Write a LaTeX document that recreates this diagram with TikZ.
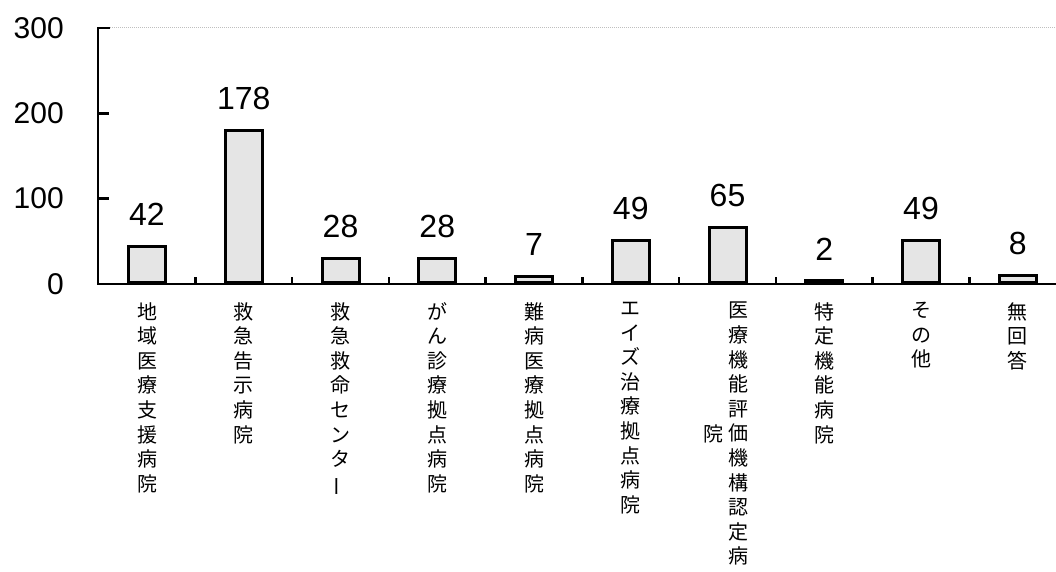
\documentclass[tikz,border=0pt]{standalone}
\usepackage{fontspec}
\setmainfont{Liberation Sans}
\newfontfamily\cjk{Noto Sans CJK JP}
\usetikzlibrary{positioning}
\usetikzlibrary{calc}
% long vowel mark set upright for vertical text
\newcommand{\vchoon}{\rotatebox[origin=c]{90}{ー}}
\tikzset{
	%Define style for axis lines
	axis/.style={line width=2.5pt},
	%Define style for bars
	bar/.style={
		rectangle,
		draw=black, line width=3pt,
		fill=gray!20,
		minimum width=37pt,
		inner sep=0pt,
		anchor=south},
	% numbers above the bars
	vallabel/.style={inner sep=0pt, font=\fontsize{32}{38}\selectfont},
	% numbers on the y axis
	ylabel/.style={anchor=east, inner sep=0pt, font=\fontsize{30}{34}\selectfont},
	% vertical category names
	catlabel/.style={
		inner sep=0pt,
		align=center,
		font=\fontsize{20}{24.6}\selectfont\cjk}
}
\begin{document}
\begin{tikzpicture}[x=1pt,y=1pt]
		\useasboundingbox (-98,-288) rectangle (958,284);
		% axes
		\draw[gray!50, densely dotted, line width=1pt] (12,256) -- (958,256);
		\draw[axis] (12,256) -- (0,256) -- (0,0) -- (958,0);
		\draw[axis] (0,85.33) -- (11,85.33) (0,170.67) -- (11,170.67);
		\draw[axis] (97.4,0) -- ++(0,7) (194.2,0) -- ++(0,7) (290.9,0) -- ++(0,7)
			(387.6,0) -- ++(0,7) (484.4,0) -- ++(0,7) (581.1,0) -- ++(0,7)
			(677.9,0) -- ++(0,7) (774.6,0) -- ++(0,7) (871.4,0) -- ++(0,7);
		% y axis numbers
		\node[ylabel] (y0) at (-34,0) {0};
		\node[ylabel] (y100) at (-34,85.33) {100};
		\node[ylabel] (y200) at (-34,170.67) {200};
		\node[ylabel] (y300) at (-34,256) {300};
		% bars
		\node[bar, minimum height=35.84pt] (b1) at (49,0) {};
		\node[bar, minimum height=151.89pt] (b2) at (145.75,0) {};
		\node[bar, minimum height=23.89pt] (b3) at (242.5,0) {};
		\node[bar, minimum height=23.89pt] (b4) at (339.25,0) {};
		\node[bar, minimum height=5.97pt] (b5) at (436,0) {};
		\node[bar, minimum height=41.81pt] (b6) at (532.75,0) {};
		\node[bar, minimum height=55.46pt] (b7) at (629.5,0) {};
		\node[bar, minimum height=1.71pt] (b8) at (726.25,0) {};
		\node[bar, minimum height=41.81pt] (b9) at (823,0) {};
		\node[bar, minimum height=6.83pt] (b10) at (919.75,0) {};
		% values
		\node[vallabel, above=19pt of b1] (v1) {42};
		\node[vallabel, above=19pt of b2] (v2) {178};
		\node[vallabel, above=19pt of b3] (v3) {28};
		\node[vallabel, above=19pt of b4] (v4) {28};
		\node[vallabel, above=19pt of b5] (v5) {7};
		\node[vallabel, above=19pt of b6] (v6) {49};
		\node[vallabel, above=19pt of b7] (v7) {65};
		\node[vallabel, above=19pt of b8] (v8) {2};
		\node[vallabel, above=19pt of b9] (v9) {49};
		\node[vallabel, above=19pt of b10] (v10) {8};
		% category names
		\node[catlabel, below=18pt of b1.south] (c1) {地\\域\\医\\療\\支\\援\\病\\院};
		\node[catlabel, below=18pt of b2.south] (c2) {救\\急\\告\\示\\病\\院};
		\node[catlabel, below=18pt of b3.south] (c3) {救\\急\\救\\命\\セ\\ン\\タ\\\vchoon};
		\node[catlabel, below=18pt of b4.south] (c4) {が\\ん\\診\\療\\拠\\点\\病\\院};
		\node[catlabel, below=18pt of b5.south] (c5) {難\\病\\医\\療\\拠\\点\\病\\院};
		\node[catlabel, below=18pt of b6.south] (c6) {エ\\イ\\ズ\\治\\療\\拠\\点\\病\\院};
		\node[catlabel, below=18pt of b7.south, xshift=11pt] (c7) {医\\療\\機\\能\\評\\価\\機\\構\\認\\定\\病};
		\node[catlabel, anchor=north] (c7b) at ($(c7.north)+(-25pt,-123pt)$) {院};
		\node[catlabel, below=18pt of b8.south] (c8) {特\\定\\機\\能\\病\\院};
		\node[catlabel, below=18pt of b9.south] (c9) {そ\\の\\他};
		\node[catlabel, below=18pt of b10.south] (c10) {無\\回\\答};
	\end{tikzpicture}
\end{document}
